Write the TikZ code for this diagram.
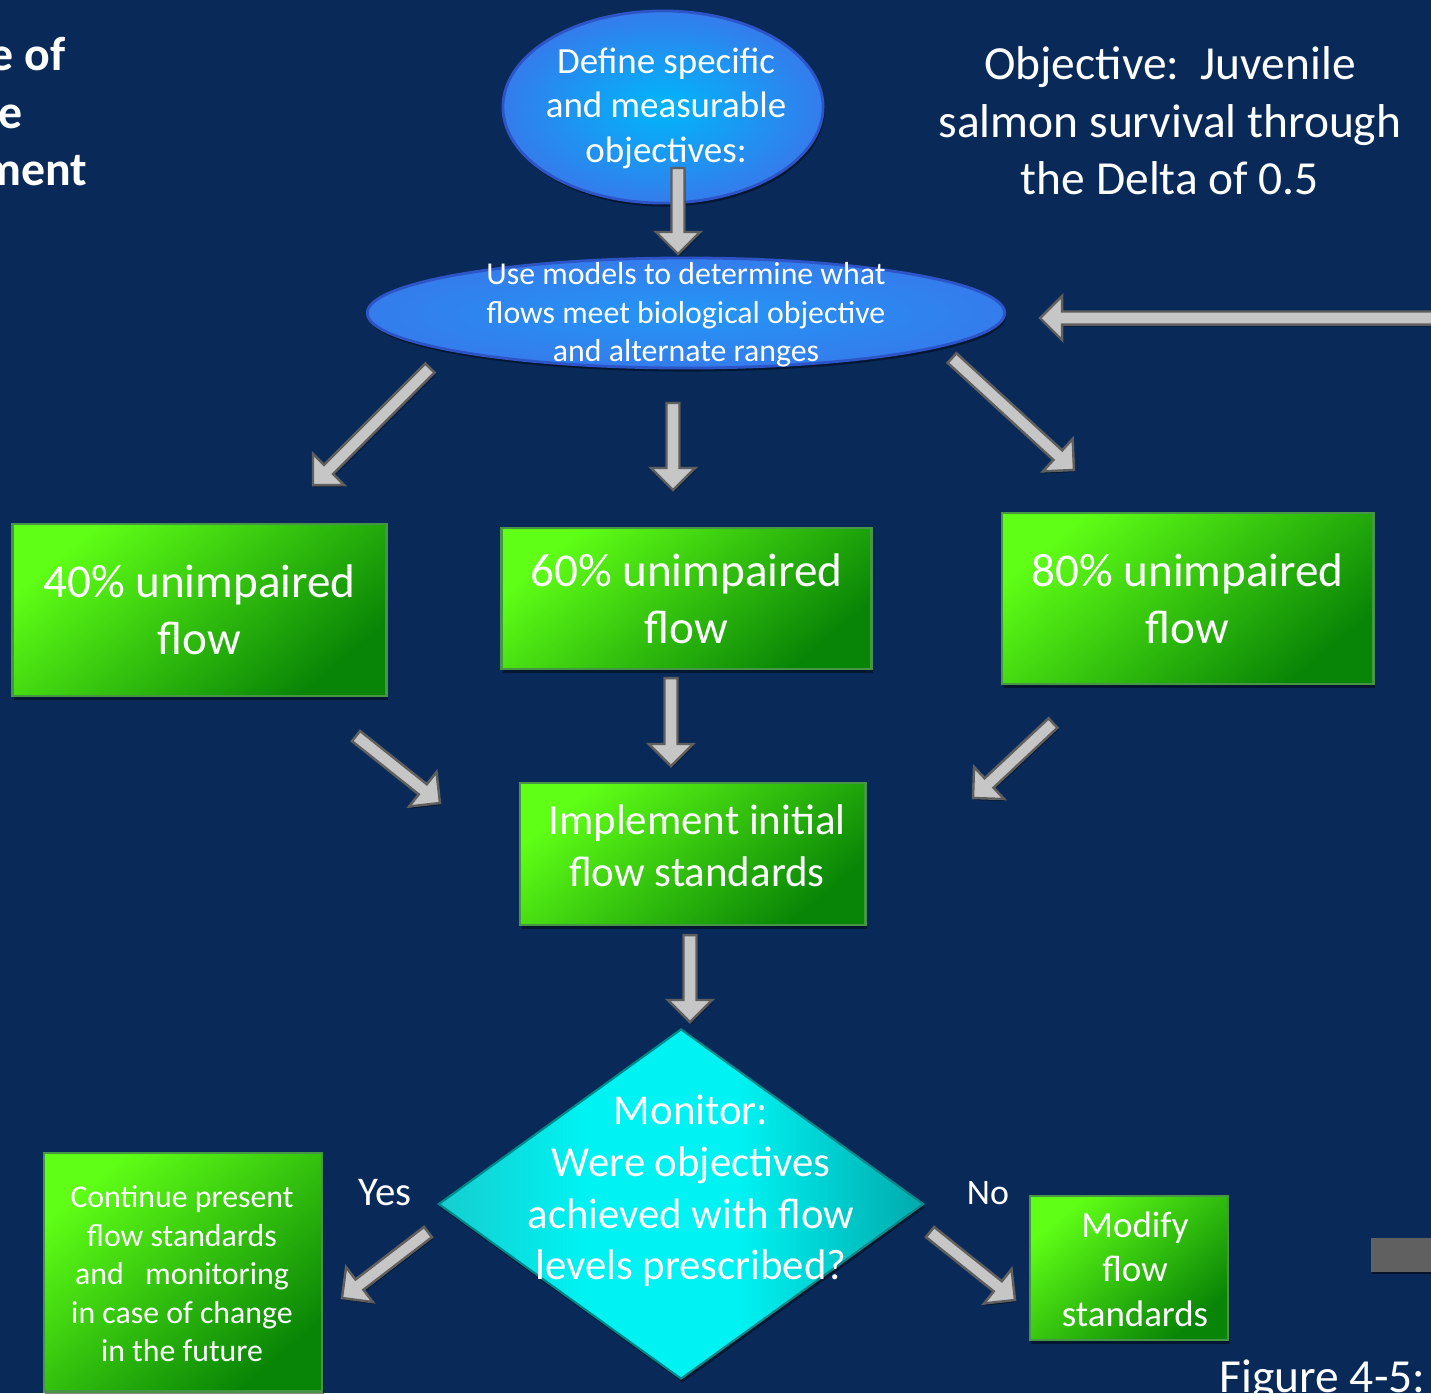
\documentclass[tikz,border=0pt]{standalone}
\usepackage{fontspec}
\setmainfont{Carlito}
\usetikzlibrary{calc,shapes.geometric,shadows}
\definecolor{bg}{RGB}{9,42,88}
\definecolor{blueA}{RGB}{0,182,250}
\definecolor{blueB}{RGB}{52,124,236}
\definecolor{blueC}{RGB}{36,150,246}
\definecolor{blueedge}{RGB}{45,85,200}
\definecolor{gA}{RGB}{95,255,22}
\definecolor{gB}{RGB}{8,132,6}
\definecolor{gedge}{RGB}{70,150,70}
\definecolor{cyL}{RGB}{22,205,207}
\definecolor{cyM}{RGB}{0,242,242}
\definecolor{cyR}{RGB}{0,170,172}
\definecolor{arrfill}{RGB}{198,198,198}
\definecolor{arredge}{RGB}{95,95,95}
\definecolor{barcol}{RGB}{96,96,96}
\pgfdeclarehorizontalshading{diamshade}{100bp}{color(0bp)=(cyL); color(25bp)=(cyL); color(40bp)=(cyM); color(56bp)=(cyM); color(75bp)=(cyR); color(100bp)=(cyR)}
\tikzset{
  shad/.style={drop shadow={shadow xshift=0.015cm, shadow yshift=-0.035cm, opacity=0.45, fill=black}},
  blueell/.style={ellipse, inner sep=0, draw=blueedge, line width=0.8pt, shading=radial, shad},
  greenbox/.style={rectangle, inner sep=0, align=center, text=white, draw=gedge, line width=0.8pt,
    top color=gA, bottom color=gB, shading angle=40, shad},
  txt/.style={inner sep=0, align=center, text=white},
  blockarr/.style={fill=arrfill, draw=arredge, line width=0.7pt, line join=miter,
    drop shadow={shadow xshift=0.01cm, shadow yshift=-0.02cm, opacity=0.5, fill=black}},
}
\newcommand\blockarrow[2]{%
  \coordinate (hb) at ($(#2)!0.22cm!(#1)$);
  \draw[blockarr] ($(#1)!0.065cm!90:(#2)$) -- ($(hb)!0.065cm!90:(#2)$) -- ($(hb)!0.22cm!90:(#2)$)
    -- (#2) -- ($(hb)!0.22cm!-90:(#2)$) -- ($(hb)!0.065cm!-90:(#2)$) -- ($(#1)!0.065cm!-90:(#2)$) -- cycle;
}
\begin{document}
\begin{tikzpicture}[x=0.01cm,y=-0.01cm]
\useasboundingbox (0,0) rectangle (1431,1393);
\clip (0,0) rectangle (1431,1393);
\fill[bg] (0,0) rectangle (1431,1393);

% cut-off title at the left
\node[txt, anchor=base east, font=\fontsize{13.6pt}{16.4pt}\selectfont\bfseries] (t1) at (66,70) {Example of};
\node[txt, anchor=base east, font=\fontsize{13.6pt}{16.4pt}\selectfont\bfseries] (t2) at (23,128) {Adaptive};
\node[txt, anchor=base east, font=\fontsize{13.6pt}{16.4pt}\selectfont\bfseries] (t3) at (88,185) {Management};

% objective
\node[txt, font=\fontsize{13.5pt}{16.35pt}\selectfont] (obj) at (1170,121) {Objective:\ \ Juvenile\\salmon survival through\\the Delta of 0.5};

% ellipses
\node[blueell, inner color=blueA, outer color=blueB, minimum width=3.2cm, minimum height=1.92cm] (def) at (663,107) {};
\node[txt, font=\fontsize{10.5pt}{12.66pt}\selectfont] (deft) at (666,108) {Define specific\\and measurable\\objectives:};
\node[blueell, inner color=blueC, outer color=blueB, minimum width=6.37cm, minimum height=1.10cm] (use) at (686,313) {};
\node[txt, font=\fontsize{9.05pt}{10.95pt}\selectfont] (uset) at (686,315) {Use models to determine what\\flows meet biological objective\\and alternate ranges};

% green boxes
\node[greenbox, minimum width=3.73cm, minimum height=1.72cm, font=\fontsize{13.4pt}{16.2pt}\selectfont] (g40) at (199.5,610) {40\% unimpaired\\flow};
\node[greenbox, minimum width=3.69cm, minimum height=1.41cm, font=\fontsize{13.4pt}{16.2pt}\selectfont] (g60) at (686.5,598.5) {60\% unimpaired\\flow};
\node[greenbox, minimum width=3.71cm, minimum height=1.71cm, font=\fontsize{13.4pt}{16.2pt}\selectfont] (g80) at (1187.5,598.5) {80\% unimpaired\\flow};
\node[greenbox, minimum width=3.45cm, minimum height=1.42cm] (impl) at (692.5,854) {};
\node[txt, font=\fontsize{12.2pt}{14.8pt}\selectfont] (implt) at (697,846) {Implement initial\\flow standards};
\node[greenbox, minimum width=2.78cm, minimum height=2.38cm] (cont) at (183,1272) {};
\node[txt, font=\fontsize{9.05pt}{10.95pt}\selectfont] (contt) at (182,1274) {Continue present\\flow standards\\and\ \ \ monitoring\\in case of change\\in the future};
\node[greenbox, minimum width=1.98cm, minimum height=1.44cm] (mod) at (1129,1268) {};
\node[txt, font=\fontsize{10.5pt}{12.66pt}\selectfont] (modt) at (1135,1269) {Modify\\flow\\standards};

% diamond
\node[diamond, inner sep=0, minimum width=4.85cm, minimum height=3.5cm, shading=diamshade, draw=cyR!80!black, line width=0.6pt, shad] (mon) at (681,1204) {};
\node[txt, font=\fontsize{12.15pt}{14.7pt}\selectfont] (mont) at (691,1191) {Monitor:\\Were objectives\\achieved with flow\\levels prescribed?};

\node[txt, font=\fontsize{11.6pt}{14pt}\selectfont] (yes) at (385,1193) {Yes};
\node[txt, font=\fontsize{10.2pt}{12.4pt}\selectfont] (no) at (988,1193) {No};

% figure caption and cut-off bar
\node[txt, anchor=base west, font=\fontsize{13.5pt}{16.3pt}\selectfont] (fig) at (1219,1392) {Figure 4-5:};
\fill[barcol, drop shadow={shadow xshift=0.01cm, shadow yshift=-0.02cm, opacity=0.5, fill=black}] (1371,1238) rectangle (1445,1272);

% arrow end points
\coordinate (a1s) at (678,168);  \coordinate (a1e) at (678,254);
\coordinate (a2s) at (430,368);  \coordinate (a2e) at (313,485);
\coordinate (a3s) at (673,403);  \coordinate (a3e) at (673,490);
\coordinate (a4s) at (952,358);  \coordinate (a4e) at (1074,470);
\coordinate (a5s) at (671,678);  \coordinate (a5e) at (671,766);
\coordinate (a6s) at (356,736);  \coordinate (a6e) at (440,803);
\coordinate (a7s) at (1053,723); \coordinate (a7e) at (973,798);
\coordinate (a8s) at (690,935);  \coordinate (a8e) at (690,1022);
\coordinate (a9s) at (428,1232); \coordinate (a9e) at (342,1298);
\coordinate (a10s) at (930,1232); \coordinate (a10e) at (1015,1300);
\coordinate (a11s) at (1460,318); \coordinate (a11e) at (1040,318);

\blockarrow{a1s}{a1e}
\blockarrow{a2s}{a2e}
\blockarrow{a3s}{a3e}
\blockarrow{a4s}{a4e}
\blockarrow{a5s}{a5e}
\blockarrow{a6s}{a6e}
\blockarrow{a7s}{a7e}
\blockarrow{a8s}{a8e}
\blockarrow{a9s}{a9e}
\blockarrow{a10s}{a10e}
\blockarrow{a11s}{a11e}
\end{tikzpicture}
\end{document}
